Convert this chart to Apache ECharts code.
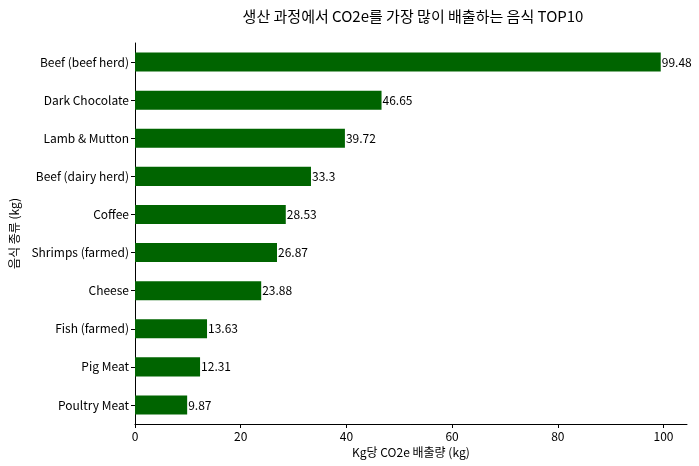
<!DOCTYPE html>
<html>
<head>
<meta charset="utf-8">
<script src="https://cdn.jsdelivr.net/npm/echarts@6/dist/echarts.min.js"></script>
<style>html,body{margin:0;padding:0;background:#fff}#chart{width:699px;height:466px}</style>
</head>
<body>
<div id="chart"></div>
<script>
var foods = ["Poultry Meat", "Pig Meat", "Fish (farmed)", "Cheese", "Shrimps (farmed)", "Coffee", "Beef (dairy herd)", "Lamb & Mutton", "Dark Chocolate", "Beef (beef herd)"];
var emissions = [9.87, 12.31, 13.63, 23.88, 26.87, 28.53, 33.3, 39.72, 46.65, 99.48];

var font = "'Noto Sans CJK KR', 'Noto Sans', sans-serif";
var myChart = echarts.init(document.getElementById('chart'));

var option = {
    textStyle: { fontFamily: font },
    title: {
        text: '생산 과정에서 CO2e를 가장 많이 배출하는 음식 TOP10',
        left: 408, top: 4, textAlign: 'center',
        textStyle: { fontFamily: font, fontSize: 15, fontWeight: 'normal', color: '#000' }
    },
    grid: { left: 129, right: 12, top: 43, bottom: 42 },
    xAxis: {
        type: 'value', min: 0, max: 104.45, interval: 20,
        name: 'Kg당 CO2e 배출량 (kg)', nameLocation: 'middle', nameGap: 22,
        nameTextStyle: { fontFamily: font, fontSize: 12, color: '#000' },
        axisLine: { show: true, lineStyle: { color: '#000' } },
        axisTick: { show: true, length: 4, lineStyle: { color: '#000' } },
        axisLabel: { color: '#000', fontSize: 12, margin: 6, showMaxLabel: false },
        splitLine: { show: false }
    },
    yAxis: {
        type: 'category', data: foods,
        name: '음식 종류 (kg)', nameLocation: 'middle', nameGap: 115, nameRotate: 90,
        nameTextStyle: { fontFamily: font, fontSize: 12, color: '#000' },
        axisLine: { show: true, lineStyle: { color: '#000' } },
        axisTick: { show: true, length: 4, alignWithLabel: true, lineStyle: { color: '#000' } },
        axisLabel: { color: '#000', fontSize: 12, margin: 6 }
    },
    series: [{
        type: 'bar', data: emissions, barWidth: '50%',
        itemStyle: { color: '#006400' },
        label: { show: true, position: 'right', distance: 1, color: '#000', fontSize: 12, fontFamily: font }
    }]
};

myChart.setOption(option);
</script>
</body>
</html>
